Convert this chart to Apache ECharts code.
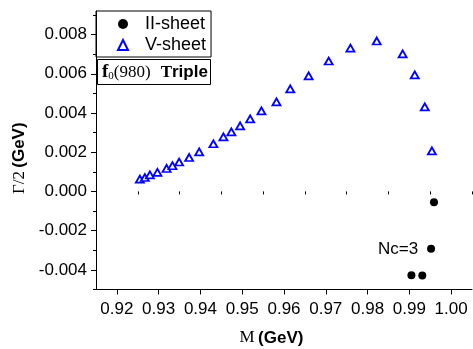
<!DOCTYPE html>
<html>
<head>
<meta charset="utf-8">
<title>f0(980) Triple pole trajectory</title>
<script src="https://cdn.jsdelivr.net/npm/echarts@6/dist/echarts.min.js"></script>
<style>
  html, body { margin: 0; padding: 0; background: #fff; }
  #chart { width: 473px; height: 349px; }
</style>
</head>
<body>
<div id="chart"></div>
<script>
// Pole positions of the f0(980) on the II and V Riemann sheets
const iiSheetM = [0.9905, 0.9931, 0.9952, 0.9959];
const iiSheetHalfWidth = [-0.00427, -0.00429, -0.00292, -0.00055];

const vSheetM = [0.9255, 0.9267, 0.9279, 0.9297, 0.9319, 0.9333, 0.9349, 0.9373,
  0.9397, 0.9431, 0.9455, 0.9474, 0.9495, 0.9519, 0.9546, 0.9582, 0.9615, 0.9659,
  0.9707, 0.9759, 0.9822, 0.9884, 0.9913, 0.9937, 0.9954];
const vSheetHalfWidth = [0.00063, 0.00071, 0.00084, 0.00097, 0.00117, 0.00131, 0.00150,
  0.00173, 0.00202, 0.00243, 0.00278, 0.00304, 0.00334, 0.00370, 0.00411, 0.00457,
  0.00523, 0.00589, 0.00665, 0.00731, 0.00767, 0.00701, 0.00594, 0.00431, 0.00207];

// Axis ticks
const xTickLabels = [0.92, 0.93, 0.94, 0.95, 0.96, 0.97, 0.98, 0.99, 1.00];
const xMinorTicks = [0.915, 0.925, 0.935, 0.945, 0.955, 0.965, 0.975, 0.985, 0.995, 1.005];
const yTickLabels = [-0.004, -0.002, 0.000, 0.002, 0.004, 0.006, 0.008];
const yMinorTicks = [-0.005, -0.003, -0.001, 0.001, 0.003, 0.005, 0.007, 0.009];

const X_MIN = 0.915, X_MAX = 1.005;
const Y_MIN = -0.005, Y_MAX = 0.0092;

const SANS = '"Liberation Sans", Arial, sans-serif';
const SERIF = '"Liberation Serif", "Times New Roman", serif';

const zip = (xs, ys) => xs.map((x, i) => [x, ys[i]]);

const chart = echarts.init(document.getElementById('chart'), null, { renderer: 'canvas' });

const option = {
  animation: false,
  backgroundColor: '#fff',
  grid: { left: 96, right: 1, top: 11, bottom: 59.5, containLabel: false, outerBoundsMode: 'none' },
  title: [
    {
      left: 97, top: 59,
      borderColor: '#000', borderWidth: 1,
      padding: [4, 3, 3, 5],
      text: '{f|f}{s|0}{n|(980)}  {T|T}{b|riple}',
      textStyle: {
        fontWeight: 'normal',
        rich: {
          f: { fontFamily: SERIF, fontWeight: 'bold', fontSize: 19, color: '#000' },
          s: { fontFamily: SERIF, fontWeight: 'normal', fontSize: 11, color: '#000', verticalAlign: 'bottom', padding: [8, 0, 0, 0] },
          n: { fontFamily: SERIF, fontWeight: 'normal', fontSize: 17, color: '#000' },
          T: { fontFamily: SERIF, fontWeight: 'bold', fontSize: 17, color: '#000' },
          b: { fontFamily: SANS, fontWeight: 'bold', fontSize: 17, color: '#000' }
        }
      }
    },
    {
      left: 378, top: 241, padding: 0,
      text: 'Nc=3',
      textStyle: { fontFamily: SANS, fontWeight: 'normal', fontSize: 17, color: '#000' }
    }
  ],
  legend: {
    left: 96, top: 11,
    orient: 'vertical',
    borderColor: '#000', borderWidth: 1, borderRadius: 0,
    padding: [4, 5, 3, 21],
    itemGap: 3,
    itemWidth: 10, itemHeight: 10,
    formatter: name => '{gap|}{t|' + name + '}',
    textStyle: {
      rich: {
        gap: { width: 12 },
        t: { fontFamily: SANS, fontSize: 18, color: '#000' }
      }
    },
    data: ['II-sheet', 'V-sheet']
  },
  xAxis: [
    {
      type: 'value', position: 'bottom',
      min: X_MIN, max: X_MAX,
      name: '{m|M} {b|(GeV)}',
      nameLocation: 'middle', nameGap: 40,
      nameTextStyle: {
        padding: [0, 25, 0, 0],
        rich: {
          m: { fontFamily: SERIF, fontSize: 17, color: '#000' },
          b: { fontFamily: SANS, fontWeight: 'bold', fontSize: 17, color: '#000' }
        }
      },
      splitLine: { show: false },
      axisLine: { show: true, onZero: false, lineStyle: { color: '#000', width: 1 } },
      axisTick: { show: true, inside: false, length: 5, customValues: xTickLabels, lineStyle: { color: '#000' } },
      axisLabel: {
        show: true, margin: 11, customValues: xTickLabels,
        fontFamily: SANS, fontSize: 17, color: '#000',
        formatter: v => v.toFixed(2)
      }
    },
    {
      type: 'value', position: 'bottom',
      min: X_MIN, max: X_MAX,
      splitLine: { show: false },
      axisLine: { show: false },
      axisTick: { show: true, inside: false, length: 3, customValues: xMinorTicks, lineStyle: { color: '#000' } },
      axisLabel: { show: false }
    }
  ],
  yAxis: [
    {
      type: 'value', position: 'left',
      min: Y_MIN, max: Y_MAX,
      name: '{g|\u0393/2} {b|(GeV)}',
      nameLocation: 'middle', nameGap: 66, nameRotate: 90,
      nameTextStyle: {
        padding: [0, 16, 0, 0],
        rich: {
          g: { fontFamily: SERIF, fontSize: 17, color: '#000' },
          b: { fontFamily: SANS, fontWeight: 'bold', fontSize: 17, color: '#000' }
        }
      },
      splitLine: { show: false },
      axisLine: { show: true, onZero: false, lineStyle: { color: '#000', width: 1 } },
      axisTick: { show: true, inside: false, length: 5, customValues: yTickLabels, lineStyle: { color: '#000' } },
      axisLabel: {
        show: true, margin: 9, customValues: yTickLabels,
        fontFamily: SANS, fontSize: 17, color: '#000',
        formatter: v => v.toFixed(3)
      }
    },
    {
      type: 'value', position: 'left',
      min: Y_MIN, max: Y_MAX,
      splitLine: { show: false },
      axisLine: { show: false },
      axisTick: { show: true, inside: false, length: 3, customValues: yMinorTicks, lineStyle: { color: '#000' } },
      axisLabel: { show: false }
    }
  ],
  series: [
    {
      name: 'II-sheet',
      type: 'scatter',
      xAxisIndex: 0, yAxisIndex: 0,
      symbol: 'circle', symbolSize: 8,
      itemStyle: { color: '#000', opacity: 1 },
      data: zip(iiSheetM, iiSheetHalfWidth)
    },
    {
      name: 'V-sheet',
      type: 'scatter',
      xAxisIndex: 0, yAxisIndex: 0,
      symbol: 'triangle', symbolSize: [8, 7],
      itemStyle: { color: '#fff', borderColor: '#0000ff', borderWidth: 1.8, opacity: 1 },
      data: zip(vSheetM, vSheetHalfWidth)
    }
  ]
};

chart.setOption(option);
</script>
</body>
</html>
